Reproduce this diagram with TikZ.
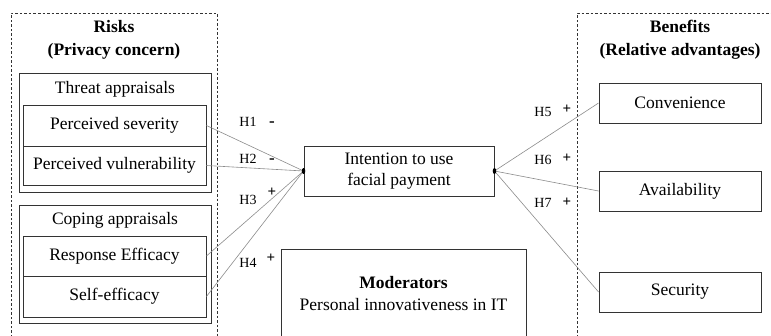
\documentclass[tikz,border=0pt]{standalone}
\usepackage{fontspec}
\usetikzlibrary{shapes.geometric}
\setmainfont{Liberation Serif}
\begin{document}
\begin{tikzpicture}[x=1pt,y=-1pt,
  box/.style={draw=black!80,line width=0.9pt,inner sep=0pt,align=center,font=\fontsize{17.5}{21}\selectfont},
  title/.style={inner sep=0pt,align=center,font=\fontsize{17.5}{23}\selectfont\bfseries},
  hlab/.style={inner sep=0pt,font=\fontsize{14}{16}\selectfont},
  sgn/.style={inner sep=0pt,font=\fontsize{17}{18}\selectfont\bfseries},
  pls/.style={inner sep=0pt,font=\fontsize{15}{16}\selectfont\bfseries},
  conn/.style={draw=black!45,line width=0.6pt},
  grp/.style={draw=black!80,line width=0.9pt},
  dbox/.style={draw=black!80,line width=0.8pt,dash pattern=on 2.5pt off 2pt},
  dot/.style={fill=black,draw=none,ellipse,minimum width=3.5pt,minimum height=6pt,inner sep=0pt}
]
\useasboundingbox (0,0) rectangle (771,335);
\fill[white] (0,0) rectangle (771,335);

% dashed groups
\draw[dbox] (11,337) -- (11,13) -- (217,13) -- (217,337);
\draw[dbox] (577,337) -- (577,13) -- (772,13);

% titles
\node[title] (risks) at (114,40) {Risks\\(Privacy concern)};
\node[title] (benefits) at (680,40) {Benefits\\(Relative advantages)};

% threat appraisals group
\draw[grp] (19,73) rectangle (211,192);
\node[box,draw=none] (threat) at (115,89) {Threat appraisals};
\node[box,minimum width=183pt,minimum height=41pt] (sev) at (114.5,125.5) {Perceived severity};
\node[box,minimum width=183pt,minimum height=39pt] (vul) at (114.5,165.5) {Perceived vulnerability};

% coping appraisals group
\draw[grp] (19,205) rectangle (211,323);
\node[box,draw=none] (coping) at (115,220) {Coping appraisals};
\node[box,minimum width=183pt,minimum height=40pt] (resp) at (114.5,256) {Response Efficacy};
\node[box,minimum width=183pt,minimum height=41pt] (self) at (114.5,296.5) {Self-efficacy};

% center
\node[box,minimum width=190pt,minimum height=50pt] (int) at (399,171) {Intention to use\\facial payment};

% moderators
\draw[grp] (281,337) -- (281,249) -- (526,249) -- (526,337);
\node[inner sep=0pt,align=center,font=\fontsize{17.5}{22}\selectfont] (mod) at (403.5,294) {\textbf{Moderators}\\Personal innovativeness in IT};

% benefits boxes
\node[box,minimum width=162pt,minimum height=40pt] (conv) at (680,103) {Convenience};
\node[box,minimum width=162pt,minimum height=40pt] (avail) at (680,191) {Availability};
\node[box,minimum width=162pt,minimum height=40pt] (sec) at (680,292) {Security};

% connectors
\draw[conn] (sev.east) -- (int.west);
\draw[conn] (vul.east) -- (int.west);
\draw[conn] (resp.east) -- (int.west);
\draw[conn] (self.east) -- (int.west);
\draw[conn] (int.east) -- (conv.west);
\draw[conn] (int.east) -- (avail.west);
\draw[conn] (int.east) -- (sec.west);
\node[dot] (dl) at (int.west) {};
\node[dot] (dr) at (int.east) {};

% hypothesis labels
\node[hlab] (h1) at (248,122) {H1};
\node[sgn] (s1) at (272,124) {-};
\node[hlab] (h2) at (248,159) {H2};
\node[sgn] (s2) at (272,161) {-};
\node[hlab] (h3) at (248,200) {H3};
\node[pls] (s3) at (272,192) {+};
\node[hlab] (h4) at (248,263) {H4};
\node[pls] (s4) at (271,258) {+};
\node[hlab] (h5) at (543,112) {H5};
\node[pls] (s5) at (567,109) {+};
\node[hlab] (h6) at (543,160) {H6};
\node[pls] (s6) at (567,158) {+};
\node[hlab] (h7) at (543,203) {H7};
\node[pls] (s7) at (567,202) {+};
\end{tikzpicture}
\end{document}
